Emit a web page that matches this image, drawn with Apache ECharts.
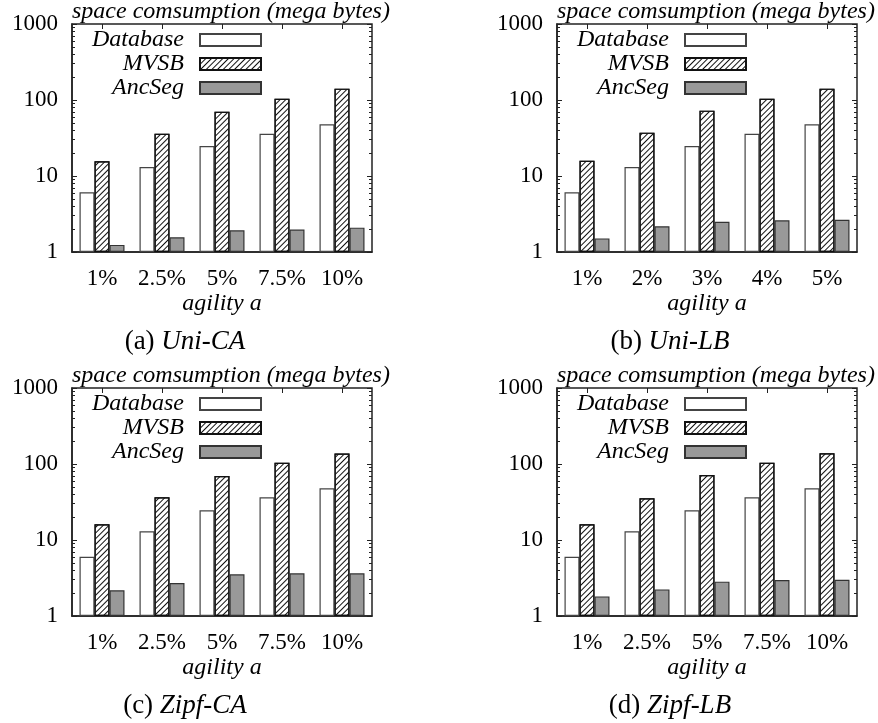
<!DOCTYPE html>
<html>
<head>
<meta charset="utf-8">
<script src="https://cdn.jsdelivr.net/npm/echarts@6/dist/echarts.min.js"></script>
<style>html,body{margin:0;padding:0;background:#fff;}#c{width:878px;height:723px;}</style>
</head>
<body>
<div id="c"></div>
<script>
// ---- data ----
var categoriesCA = ['1%', '2.5%', '5%', '7.5%', '10%'];
var categoriesLB = ['1%', '2%', '3%', '4%', '5%'];
var seriesNames = ['Database', 'MVSB', 'AncSeg'];
var yTickLabels = [1, 10, 100, 1000];
var minorTickValues = [2,3,4,5,6,7,8,9,20,30,40,50,60,70,80,90,200,300,400,500,600,700,800,900];

var uniCA_db   = [6.1, 13.1, 24.8, 36, 47.8];
var uniCA_mvsb = [15.6, 36, 70, 104, 141];
var uniCA_anc  = [1.24, 1.56, 1.93, 1.97, 2.09];

var uniLB_db   = [6.1, 13.1, 24.8, 36, 47.8];
var uniLB_mvsb = [15.9, 37.2, 72.4, 104, 141];
var uniLB_anc  = [1.51, 2.18, 2.5, 2.61, 2.66];

var zipfCA_db   = [6.0, 13.0, 24.6, 36.4, 47.8];
var zipfCA_mvsb = [16.1, 36.4, 69.5, 104, 137];
var zipfCA_anc  = [2.18, 2.72, 3.53, 3.64, 3.64];

var zipfLB_db   = [6.0, 13.0, 24.6, 36.4, 47.8];
var zipfLB_mvsb = [16.1, 35.3, 71.6, 104, 138];
var zipfLB_anc  = [1.81, 2.24, 2.83, 2.98, 3.0];

var captionTags = ['(a) ', '(b) ', '(c) ', '(d) '];
var captionNames = ['Uni-CA', 'Uni-LB', 'Zipf-CA', 'Zipf-LB'];
var yTitle = 'space comsumption (mega bytes)';
var xTitle = 'agility a';

// ---- build ----
var FONT = "'Liberation Serif', 'Times New Roman', serif";
var panels = [
  {left: 72,  top: 24,  cats: categoriesCA, data: [uniCA_db, uniCA_mvsb, uniCA_anc]},
  {left: 557, top: 24,  cats: categoriesLB, data: [uniLB_db, uniLB_mvsb, uniLB_anc]},
  {left: 72,  top: 388, cats: categoriesCA, data: [zipfCA_db, zipfCA_mvsb, zipfCA_anc]},
  {left: 557, top: 388, cats: categoriesCA, data: [zipfLB_db, zipfLB_mvsb, zipfLB_anc]}
];
var PW = 300, PH = 228;

var styles = [
  {color: '#ffffff', borderColor: '#444', borderWidth: 1.2},
  {color: '#ffffff', borderColor: '#111', borderWidth: 1.2,
   decal: {symbol: 'rect', symbolSize: 1, color: '#111', dashArrayX: [1, 0], dashArrayY: [1, 3], rotation: -Math.PI / 4}},
  {color: '#999999', borderColor: '#333', borderWidth: 1.2}
];

var grid = [], xAxis = [], yAxis = [], series = [], legend = [], title = [];
panels.forEach(function (p, i) {
  grid.push({left: p.left, top: p.top, width: PW, height: PH, show: true, borderColor: '#222', borderWidth: 1.5, backgroundColor: 'transparent'});
  xAxis.push({
    type: 'category', gridIndex: i, data: p.cats, position: 'bottom',
    axisLine: {lineStyle: {color: '#222', width: 1.5}},
    axisTick: {show: true, inside: true, alignWithLabel: true, length: 5, lineStyle: {color: '#222'}},
    axisLabel: {color: '#000', fontFamily: FONT, fontSize: 23, margin: 15, interval: 0},
    name: xTitle, nameLocation: 'middle', nameGap: 40,
    nameTextStyle: {color: '#000', fontFamily: FONT, fontSize: 24, fontStyle: 'italic'}
  });
  xAxis.push({
    type: 'category', gridIndex: i, data: p.cats, position: 'top',
    axisLine: {show: false},
    axisTick: {show: true, inside: true, alignWithLabel: true, length: 5, lineStyle: {color: '#222'}},
    axisLabel: {show: false}
  });
  var base = yAxis.length;
  yAxis.push({
    type: 'log', logBase: 10, gridIndex: i, min: 1, max: 1000, position: 'left',
    axisLine: {show: true, lineStyle: {color: '#222', width: 1.5}},
    axisTick: {show: true, inside: true, length: 5, lineStyle: {color: '#222'}, customValues: yTickLabels},
    axisLabel: {color: '#000', fontFamily: FONT, fontSize: 23, margin: 14, customValues: yTickLabels,
      formatter: function (v) { return String(Math.round(v)); }},
    splitLine: {show: false},
    name: yTitle, nameLocation: 'end', nameGap: 12,
    nameTextStyle: {color: '#000', fontFamily: FONT, fontSize: 24, fontStyle: 'italic', align: 'left', verticalAlign: 'middle'}
  });
  yAxis.push({
    type: 'log', logBase: 10, gridIndex: i, min: 1, max: 1000, position: 'right',
    axisLine: {show: false},
    axisTick: {show: true, inside: true, length: 5, lineStyle: {color: '#222'}, customValues: yTickLabels},
    axisLabel: {show: false}, splitLine: {show: false}
  });
  yAxis.push({
    type: 'log', logBase: 10, gridIndex: i, min: 1, max: 1000, position: 'left',
    axisLine: {show: false},
    axisTick: {show: true, inside: true, length: 3, lineStyle: {color: '#222'}, customValues: minorTickValues},
    axisLabel: {show: false}, splitLine: {show: false}
  });
  yAxis.push({
    type: 'log', logBase: 10, gridIndex: i, min: 1, max: 1000, position: 'right',
    axisLine: {show: false},
    axisTick: {show: true, inside: true, length: 3, lineStyle: {color: '#222'}, customValues: minorTickValues},
    axisLabel: {show: false}, splitLine: {show: false}
  });
  seriesNames.forEach(function (name, k) {
    series.push({
      type: 'bar', name: name, xAxisIndex: i * 2, yAxisIndex: base,
      data: p.data[k], barGap: '0%', barCategoryGap: '25%',
      itemStyle: styles[k], emphasis: {disabled: true}, animation: false, z: 3
    });
    legend.push({
      data: [{name: name, icon: 'rect'}], orient: 'horizontal', align: 'right', padding: 0,
      right: 878 - (p.left + 190), top: p.top + 4 + k * 24,
      itemWidth: 61, itemHeight: 12, selectedMode: false,
      textStyle: {color: '#000', fontFamily: FONT, fontSize: 24, fontStyle: 'italic', padding: [0, 11, 0, 0]}
    });
  });
  title.push({
    text: '{n|' + captionTags[i] + '}{it|' + captionNames[i] + '}',
    left: p.left + 108, top: p.top + 299, textAlign: 'center',
    textStyle: {fontWeight: 'normal', rich: {
      n: {fontFamily: FONT, fontSize: 27, color: '#000', fontWeight: 'normal'},
      it: {fontFamily: FONT, fontSize: 27, color: '#000', fontStyle: 'italic', fontWeight: 'normal'}
    }}
  });
});

var chart = echarts.init(document.getElementById('c'), null, {renderer: 'canvas'});
chart.setOption({
  animation: false,
  backgroundColor: '#fff',
  grid: grid, xAxis: xAxis, yAxis: yAxis, series: series, legend: legend, title: title
});
</script>
</body>
</html>
